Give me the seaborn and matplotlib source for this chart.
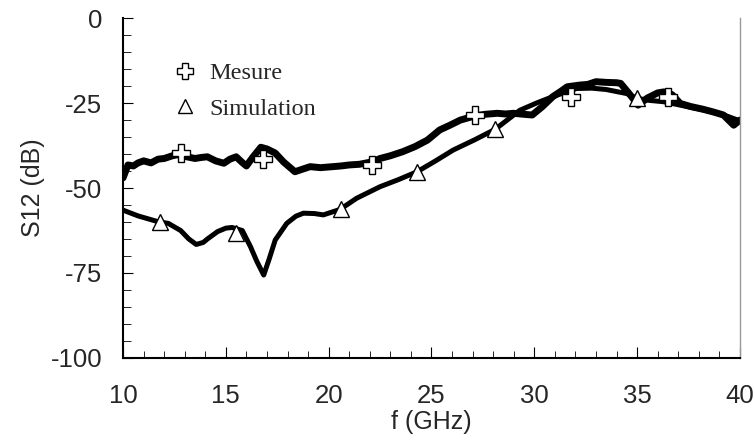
import matplotlib
matplotlib.use("Agg")
import matplotlib.pyplot as plt
from matplotlib.lines import Line2D
import seaborn as sns
import pandas as pd

mes_f = [10.0, 10.24, 10.5, 10.73, 11.0, 11.36, 11.7, 12.0, 12.4, 12.8, 13.1, 13.5,
         13.8, 14.1, 14.5, 14.9, 15.2, 15.5, 15.8, 16.0, 16.3, 16.7, 17.0, 17.4,
         17.8, 18.36, 18.7, 19.1, 19.6, 20.2, 20.6, 21.0, 21.5, 22.1, 22.5, 23.0,
         23.6, 24.2, 24.8, 25.4, 25.9, 26.4, 27.1, 27.6, 28.2, 28.6, 29.0, 29.5,
         29.9, 30.4, 30.9, 31.3, 31.6, 32.2, 32.6, 33.0, 33.5, 34.0, 34.2, 34.6,
         35.05, 35.5, 36.0, 36.3, 36.7, 37.1, 37.6, 38.2, 38.7, 39.2, 39.7, 40.0]
mes_db = [-47.0, -43.2, -43.5, -42.6, -42.0, -42.6, -41.5, -41.3, -40.5, -40.0, -40.8, -41.3,
          -41.0, -40.8, -42.0, -42.7, -41.5, -40.8, -42.5, -43.5, -41.0, -38.0, -38.5, -39.7,
          -42.3, -45.2, -44.5, -43.7, -44.0, -43.7, -43.5, -43.2, -43.0, -42.3, -41.3, -40.5,
          -39.3, -37.8, -35.9, -32.9, -31.5, -30.0, -28.8, -28.3, -28.0, -28.2, -28.0, -28.3,
          -28.5, -26.0, -23.1, -21.5, -20.2, -19.7, -19.5, -18.7, -18.9, -19.0, -19.2, -22.1,
          -25.6, -23.5, -22.0, -21.7, -22.5, -25.1, -26.0, -26.8, -27.6, -28.5, -31.5, -30.0]

# Simulated S12
sim_f = [10.0, 10.73, 11.7, 12.2, 12.8, 13.2, 13.56, 13.9, 14.1, 14.6, 15.0, 15.3, 15.8,
         16.2, 16.5, 16.84, 17.1, 17.4, 17.96, 18.4, 18.77, 19.3, 19.74, 20.55, 21.36,
         22.5, 23.4, 24.3, 25.2, 26.06, 27.1, 28.1, 29.3, 30.1, 30.9, 32.05, 32.8,
         33.5, 34.5, 35.0, 35.6, 36.3, 37.1, 37.9, 39.0, 39.9]
sim_db = [-56.5, -58.2, -59.9, -60.4, -62.5, -65.0, -66.6, -66.0, -65.0, -62.8, -61.8, -61.6,
          -62.5, -67.3, -71.5, -75.6, -71.0, -65.3, -60.4, -58.3, -57.4, -57.5, -57.9, -56.3,
          -53.0, -49.6, -47.5, -45.2, -42.0, -38.8, -35.8, -32.7, -27.1, -25.0, -23.1, -20.7,
          -20.6, -21.0, -22.2, -23.6, -24.2, -24.6, -25.6, -26.6, -28.0, -30.0]

# marker positions on each trace
mes_mk_f = [12.8, 16.8, 22.1, 27.1, 31.8, 36.5]
mes_mk_db = [-39.6, -41.5, -43.2, -28.5, -23.3, -23.1]
sim_mk_f = [11.8, 15.5, 20.6, 24.3, 28.1, 35.0]
sim_mk_db = [-59.9, -63.3, -56.3, -45.2, -32.7, -23.6]

df_mes = pd.DataFrame({"f": mes_f, "S12": mes_db})
df_sim = pd.DataFrame({"f": sim_f, "S12": sim_db})

sns.set_style("ticks")
plt.rcParams['font.family'] = ['Liberation Sans', 'DejaVu Sans']
plt.rcParams['axes.unicode_minus'] = False

fig = plt.figure(figsize=(7.55, 4.43), dpi=100)
ax = fig.add_axes([0.163, 0.192, 0.817, 0.767])

sns.lineplot(data=df_mes, x="f", y="S12", color="black", lw=5.0, sort=False,
             estimator=None, ax=ax)
sns.lineplot(data=df_sim, x="f", y="S12", color="black", lw=3.6, sort=False,
             estimator=None, ax=ax)
ax.plot(mes_mk_f, mes_mk_db, ls="", marker="P", ms=13, mfc="white", mec="black", mew=1.0)
ax.plot(sim_mk_f, sim_mk_db, ls="", marker="^", ms=12, mfc="white", mec="black", mew=1.0)

ax.set_xlim(10, 40)
ax.set_ylim(-100, 0)
ax.set_xticks(range(10, 41, 5))
ax.set_xticks(range(10, 41, 1), minor=True)
ax.set_yticks(range(-100, 1, 25))
ax.set_yticks(range(-100, 1, 5), minor=True)
ax.tick_params(axis="both", which="both", direction="in", color="black", labelsize=18.5)
ax.tick_params(axis="x", which="major", length=8, pad=19)
ax.tick_params(axis="x", which="minor", length=5)
ax.tick_params(axis="y", which="major", length=7, pad=15)
ax.tick_params(axis="y", which="minor", length=6)

ax.set_xlabel("f (GHz)", fontsize=18, labelpad=1)
ax.set_ylabel("S12 (dB)", fontsize=18, labelpad=4)

for s in ["left", "bottom"]:
    ax.spines[s].set_color("black")
    ax.spines[s].set_linewidth(1.5)
ax.spines["top"].set_visible(False)
ax.spines["right"].set_color("#999999")
ax.spines["right"].set_linewidth(1.0)

handles = [
    Line2D([], [], ls="", marker="P", ms=11, mfc="white", mec="black", mew=1.0, label="Mesure"),
    Line2D([], [], ls="", marker="^", ms=10, mfc="white", mec="black", mew=1.0, label="Simulation"),
]
ax.legend(handles=handles, loc="upper left", bbox_to_anchor=(0.045, 0.935), frameon=False,
          prop={"family": "Liberation Serif", "size": 17.5}, handletextpad=0.5,
          labelspacing=0.55, handlelength=1.0)

plt.savefig("out.png", dpi=100)
